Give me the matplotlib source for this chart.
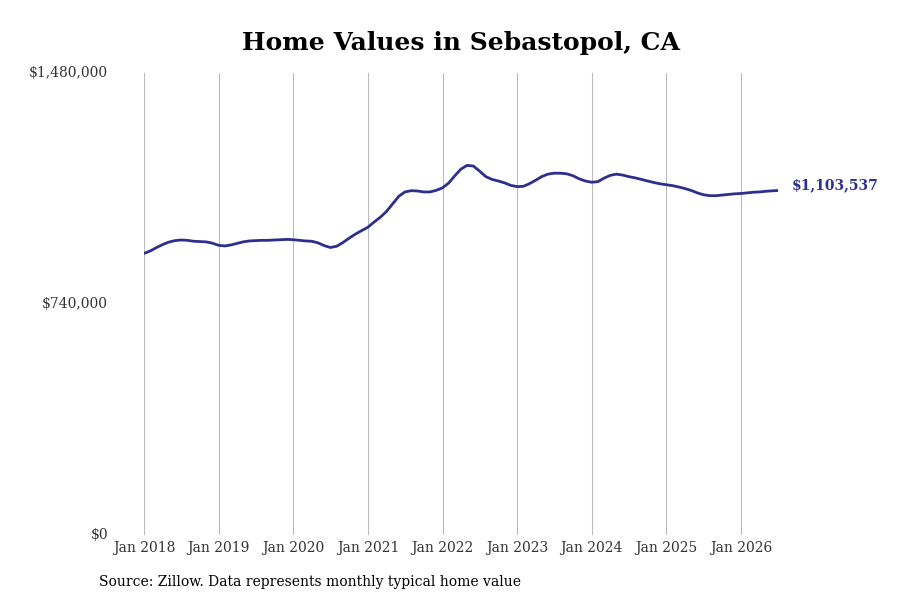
#!/usr/bin/env python3
"""Home values line chart for Sebastopol, CA."""

import matplotlib

matplotlib.use("Agg")
import matplotlib.dates as mdates
import matplotlib.pyplot as plt
import pandas as pd
from matplotlib.ticker import FuncFormatter

START_MONTH = "2018-01-01"

# monthly typical home value, Jan 2018 .. Jul 2026
VALUES = [
    902000, 910000, 920000, 930000, 938000, 943000, 945000, 944000, 941000, 940000, 939000, 935000,
    928000, 926000, 929000, 934000, 939000, 942000, 943000, 944000, 944000, 945000, 946000, 947000,
    946000, 944000, 942000, 941000, 936000, 927000, 921000, 925000, 937000, 951000, 964000, 975000,
    986000, 1003000, 1017000, 1036000, 1060000, 1085000, 1099000, 1103000, 1102000, 1099000, 1099000, 1104000,
    1112000, 1128000, 1150000, 1172000, 1184000, 1182000, 1166000, 1148000, 1139000, 1134000, 1128000, 1120000,
    1116000, 1117000, 1125000, 1136000, 1148000, 1156000, 1159000, 1159000, 1157000, 1151000, 1141000, 1134000,
    1130000, 1132000, 1143000, 1152000, 1156000, 1153000, 1148000, 1144000, 1139000, 1134000, 1129000, 1125000,
    1122000, 1119000, 1115000, 1110000, 1104000, 1096000, 1090000, 1087000, 1087000, 1089000, 1091000, 1093000,
    1094000, 1096000, 1098000, 1099000, 1101000, 1102500, 1103537,
]

Y_TICKS = [0, 740000, 1480000]
X_TICK_YEARS = [2018, 2019, 2020, 2021, 2022, 2023, 2024, 2025, 2026]

TITLE = "Home Values in Sebastopol, CA"
SOURCE = "Source: Zillow. Data represents monthly typical home value"
LINE_COLOR = "#2e2f8c"


def main() -> None:
    plt.rcParams.update({"font.family": ["DejaVu Serif"]})
    dates = pd.date_range(START_MONTH, periods=len(VALUES), freq="MS")

    fig = plt.figure(figsize=(9, 6), dpi=100)
    ax = fig.add_axes([144 / 900, 65 / 600, 634 / 900, 462 / 600])

    ax.plot(dates, VALUES, color=LINE_COLOR, linewidth=2.0, solid_capstyle="round")
    ax.set_xlim(dates[0], dates[-1])
    ax.set_ylim(Y_TICKS[0], Y_TICKS[-1])

    ax.set_yticks(Y_TICKS)
    ax.yaxis.set_major_formatter(FuncFormatter(lambda v, _: f"${v:,.0f}"))
    ax.set_xticks([pd.Timestamp(f"{y}-01-01") for y in X_TICK_YEARS])
    ax.xaxis.set_major_formatter(mdates.DateFormatter("Jan %Y"))

    ax.tick_params(axis="y", length=0, pad=26, labelsize=10, labelcolor="#333333")
    ax.tick_params(axis="x", length=0, pad=4, labelsize=10, labelcolor="#333333")
    for label in ax.get_yticklabels():
        label.set_verticalalignment("center")

    ax.grid(axis="x", color="#bbbbbb", linewidth=0.8)
    ax.set_axisbelow(True)
    for spine in ax.spines.values():
        spine.set_visible(False)

    ax.annotate(
        f"${VALUES[-1]:,.0f}",
        xy=(dates[-1], VALUES[-1]),
        xytext=(10, 4),
        textcoords="offset points",
        ha="left",
        va="center",
        fontsize=10,
        fontweight="bold",
        color=LINE_COLOR,
    )

    fig.text(461 / 900, 1 - 43 / 600, TITLE, ha="center", va="center",
             fontsize=18, fontweight="bold", color="black")
    fig.text(99 / 900, 1 - 582 / 600, SOURCE, ha="left", va="center",
             fontsize=10, color="black")

    fig.savefig("out.png", dpi=100)
    plt.close(fig)


if __name__ == "__main__":
    main()
